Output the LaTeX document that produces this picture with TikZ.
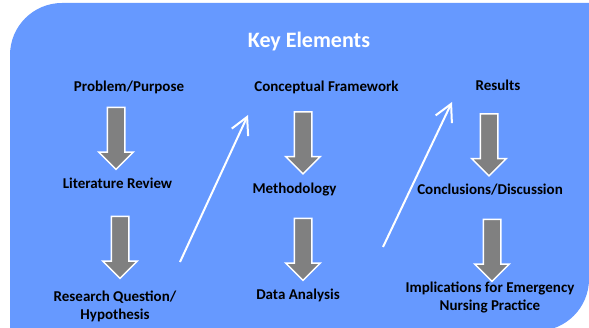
\documentclass[tikz,border=0pt]{standalone}
\usepackage{fontspec}
\setmainfont{Carlito}
\usepackage{tikz}
\usetikzlibrary{shapes.arrows, arrows.meta}
\definecolor{keyblue}{RGB}{102,153,255}
\definecolor{blockgray}{RGB}{128,128,128}

\begin{document}
\begin{tikzpicture}[
    x=1pt, y=-1pt,
    item/.style={font=\bfseries\fontsize{15}{18}\selectfont, text=black, inner sep=0pt, align=center, anchor=base},
    heading/.style={font=\bfseries\fontsize{22}{26}\selectfont, text=white, inner sep=0pt, anchor=base},
    down/.style={single arrow, draw=white, line width=1.5pt, fill=blockgray, minimum height=62pt, minimum width=33pt, single arrow head extend=8.5pt, inner xsep=0pt, inner ysep=8pt, rotate=-90},
    jump/.style={draw=white, line width=2pt, -{Straight Barb[length=17pt, width=18pt]}}
]
    \useasboundingbox (0,0) rectangle (589,328);
    \clip (0,0) rectangle (589,328);

    % Panel
    \fill[keyblue] (10,331) -- (10,55) arc[start angle=180, end angle=270, radius=52]
        -- (589,3) -- (589,279) arc[start angle=0, end angle=90, radius=52] -- cycle;
    \node[heading] (ttl) at (309,48) {Key Elements};

    % First column
    \node[item] (prob) at (129,92) {Problem/Purpose};
    \node[item] (lit) at (117.5,189) {Literature Review};
    \node[item] (rq) at (115,320) {Research Question/\\Hypothesis};
    \node[down] (d1) at (116,134) {};
    \node[down] (d2) at (120,243) {};

    % Second column
    \node[item] (cf) at (326.5,92) {Conceptual Framework};
    \node[item] (meth) at (294.5,194) {Methodology};
    \node[item] (data) at (298,300) {Data Analysis};
    \node[down] (d3) at (303,138.5) {};
    \node[down] (d4) at (303,245) {};

    % Third column
    \node[item] (res) at (498,91) {Results};
    \node[item] (conc) at (490,195) {Conclusions/Discussion};
    \node[item] (impl) at (490,311) {Implications for Emergency\\Nursing Practice};
    \node[down] (d5) at (489,140.5) {};
    \node[down] (d6) at (492,246) {};

    % Jumps between columns
    \coordinate (rqout) at (180,262);
    \coordinate (cfin) at (248,115);
    \coordinate (dataout) at (383,247);
    \coordinate (resin) at (452,102);
    \draw[jump] (rqout) -- (cfin);
    \draw[jump] (dataout) -- (resin);
\end{tikzpicture}
\end{document}
